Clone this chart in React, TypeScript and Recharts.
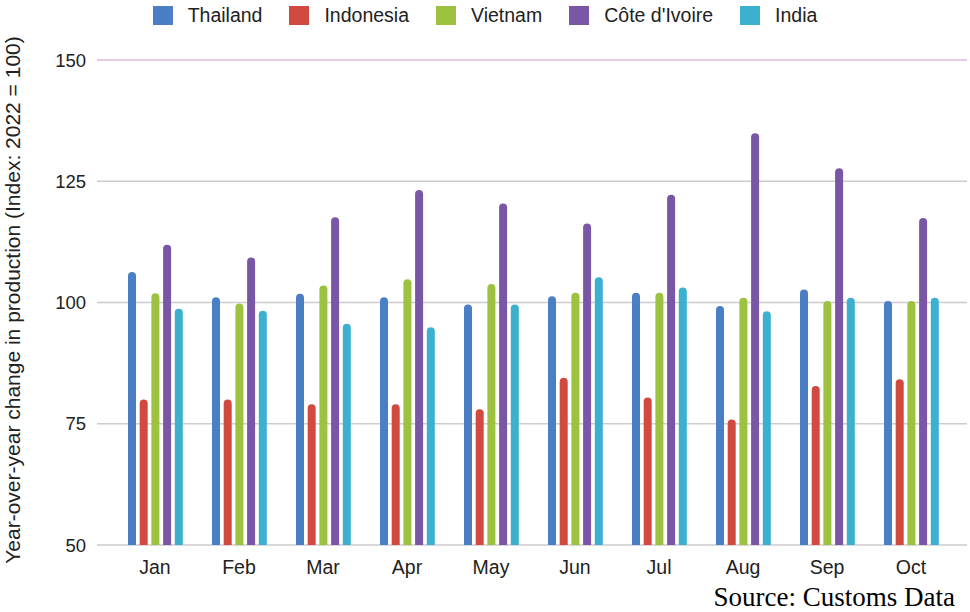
import React from 'react';
import { BarChart, Bar, XAxis, YAxis, CartesianGrid, ReferenceLine } from 'recharts';

const months = ['Jan', 'Feb', 'Mar', 'Apr', 'May', 'Jun', 'Jul', 'Aug', 'Sep', 'Oct'];
const thailand = [106.3, 101.1, 101.8, 101.1, 99.6, 101.3, 102.0, 99.3, 102.7, 100.3];
const indonesia = [80.0, 80.0, 79.0, 79.0, 78.0, 84.5, 80.4, 75.9, 82.8, 84.2];
const vietnam = [101.9, 99.8, 103.5, 104.8, 103.8, 102.0, 102.0, 101.0, 100.3, 100.3];
const coteDIvoire = [111.9, 109.3, 117.6, 123.2, 120.4, 116.3, 122.2, 134.9, 127.7, 117.4];
const india = [98.7, 98.3, 95.6, 94.9, 99.6, 105.2, 103.1, 98.2, 101.0, 101.0];
const yTicks = [50, 75, 100, 125, 150];

const series = [
  { key: 'thailand', name: 'Thailand', values: thailand, color: '#4a7fc6' },
  { key: 'indonesia', name: 'Indonesia', values: indonesia, color: '#d04a40' },
  { key: 'vietnam', name: 'Vietnam', values: vietnam, color: '#9dc23f' },
  { key: 'cote', name: "Côte d'Ivoire", values: coteDIvoire, color: '#7a56a6' },
  { key: 'india', name: 'India', values: india, color: '#3cb0cf' },
];

const data = months.map((m, i) => {
  const row: any = { month: m };
  series.forEach((s) => {
    row[s.key] = s.values[i];
  });
  return row;
});

export default function App() {
  return (
    <div
      style={{
        position: 'absolute',
        left: 0,
        top: 0,
        width: 970,
        height: 612,
        background: '#fff',
        fontFamily: '"Liberation Sans", Arial, sans-serif',
      }}
    >
      <BarChart
        width={970}
        height={612}
        data={data}
        margin={{ top: 60, right: 3, bottom: 37, left: 0 }}
        barSize={8}
        barGap={3.7}
      >
        <CartesianGrid vertical={false} stroke="#cfcbcf" strokeWidth={1.3} />
        <XAxis
          dataKey="month"
          axisLine={false}
          tickLine={false}
          height={30}
          padding={{ left: 16, right: 14 }}
          tickMargin={9}
          tick={{ fontSize: 19.5, fill: '#222' }}
        />
        <YAxis
          domain={[50, 150]}
          ticks={yTicks}
          axisLine={false}
          tickLine={false}
          width={97}
          tickMargin={5}
          tick={{ fontSize: 18.5, fill: '#222' }}
        />
        <ReferenceLine y={150} stroke="#e8c4e8" strokeWidth={1.3} />
        {series.map((s) => (
          <Bar
            key={s.key}
            dataKey={s.key}
            name={s.name}
            fill={s.color}
            radius={[4, 4, 0, 0]}
            isAnimationActive={false}
          />
        ))}
      </BarChart>

      <div
        style={{
          position: 'absolute',
          top: 6,
          left: 0,
          width: 970,
          display: 'flex',
          justifyContent: 'center',
          alignItems: 'center',
          fontSize: 19.5,
          color: '#222',
          lineHeight: '19px',
        }}
      >
        {series.map((s, i) => (
          <div
            key={s.key}
            style={{
              display: 'flex',
              alignItems: 'center',
              marginLeft: i === 0 ? 0 : 27,
            }}
          >
            <div style={{ width: 20, height: 19, background: s.color, marginRight: 15 }} />
            <span>{s.name}</span>
          </div>
        ))}
      </div>

      <svg
        width={970}
        height={612}
        style={{ position: 'absolute', left: 0, top: 0, pointerEvents: 'none' }}
      >
        <text
          transform="translate(20,300) rotate(-90)"
          textAnchor="middle"
          fontSize={21}
          fill="#222"
          fontFamily='"Liberation Sans", Arial, sans-serif'
        >
          Year-over-year change in production (Index: 2022 = 100)
        </text>
        <text
          x={955}
          y={606}
          textAnchor="end"
          fontSize={27}
          fill="#000"
          fontFamily='"Liberation Serif", "Times New Roman", serif'
        >
          Source: Customs Data
        </text>
      </svg>
    </div>
  );
}
